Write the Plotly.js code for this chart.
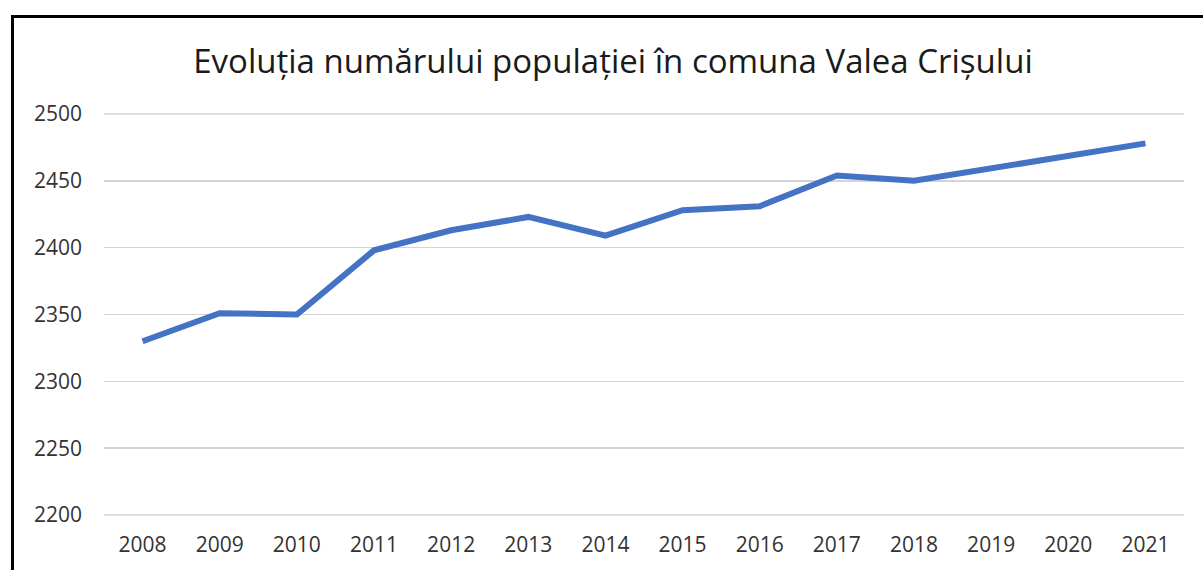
<!DOCTYPE html>
<html>
<head>
<meta charset="utf-8">
<script src="https://cdn.plot.ly/plotly-3.0.1.min.js"></script>
<style>
  html, body { margin: 0; padding: 0; background: #fff; overflow: hidden; }
  #chart { width: 1203px; height: 570px; }
  #frame { position: absolute; left: 11px; top: 15px; width: 1300px; height: 700px;
           border-left: 3px solid #000; border-top: 3px solid #000; pointer-events: none; }
</style>
</head>
<body>
<div id="chart"></div>
<div id="frame"></div>
<script>
const years = ["2008","2009","2010","2011","2012","2013","2014","2015","2016","2017","2018","2019","2020","2021"];
const population = [2330, 2351, 2350, 2398, 2413, 2423, 2409, 2428, 2431, 2454, 2450, 2459, 2468, 2478];
const chartTitle = "Evoluția numărului populației în comuna Valea Crișului";
const yMin = 2200, yMax = 2500;

const trace = {
  x: years,
  y: population,
  type: "scatter",
  mode: "lines",
  line: { color: "#4472C4", width: 6 },
  hoverinfo: "x+y"
};

const edgeGrid = [yMin, yMax].map(v => ({
  type: "line", xref: "paper", yref: "y", x0: 0, x1: 1, y0: v, y1: v,
  line: { color: "#d4d4d4", width: 1.5 }, layer: "below"
}));

const layout = {
  width: 1203,
  height: 570,
  margin: { l: 104, r: 19, t: 113, b: 54 },
  paper_bgcolor: "#ffffff",
  plot_bgcolor: "#ffffff",
  showlegend: false,
  font: { family: "Open Sans, sans-serif", color: "#404040" },
  title: {
    text: chartTitle,
    font: { family: "Open Sans, sans-serif", size: 33, color: "#1a1a1a" },
    x: 613 / 1203, xref: "container", xanchor: "center",
    y: 1 - 61 / 570, yref: "container", yanchor: "middle"
  },
  shapes: edgeGrid,
  xaxis: {
    type: "category",
    range: [-0.5, 13.5],
    showgrid: false,
    zeroline: false,
    showline: false,
    ticks: "",
    tickfont: { size: 21, color: "#333333" },
    ticklabelstandoff: 14
  },
  yaxis: {
    range: [yMin - 0.75, yMax + 0.75],
    dtick: 50,
    tick0: 2200,
    showgrid: true,
    gridcolor: "#d4d4d4",
    gridwidth: 1.5,
    zeroline: false,
    showline: false,
    ticks: "",
    tickfont: { size: 21, color: "#333333" },
    ticklabelstandoff: 21
  }
};

Plotly.newPlot("chart", [trace], layout, { displayModeBar: false, staticPlot: true });
</script>
</body>
</html>
